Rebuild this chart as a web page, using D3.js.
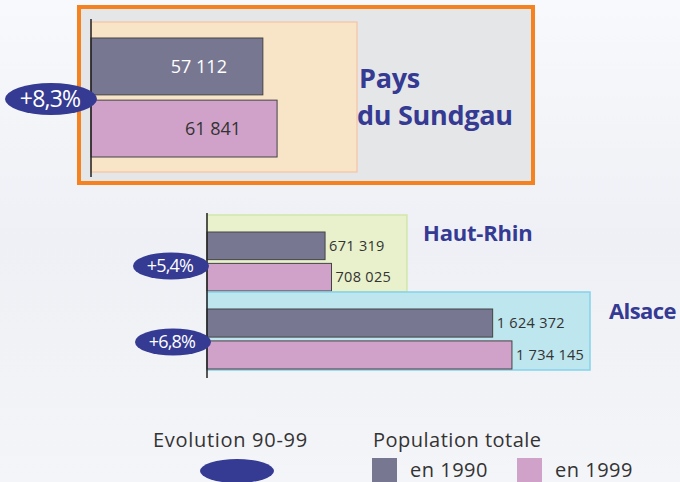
<!DOCTYPE html>
<html>
<head>
<meta charset="utf-8">
<script src="https://cdn.jsdelivr.net/npm/d3@7"></script>
<style>
  body { margin: 0; background: #fff; }
  svg { display: block; }
</style>
</head>
<body>
<div class="canvas"></div>
<script>
// data
const zones = ["Pays du Sundgau", "Haut-Rhin", "Alsace"];
const pop1990 = [57112, 671319, 1624372];
const pop1999 = [61841, 708025, 1734145];
const evolution = ["+8,3%", "+5,4%", "+6,8%"];
const valueLabels1990 = ["57 112", "671 319", "1 624 372"];
const valueLabels1999 = ["61 841", "708 025", "1 734 145"];
const legendYears = ["en 1990", "en 1999"];

const c1990 = "#787792", c1999 = "#d0a2c9", navy = "#353a93";

const svg = d3.select(".canvas")
  .append("svg")
    .attr("width", 680)
    .attr("height", 482);

// soft background
const defs = svg.append("defs");
const grad = defs.append("linearGradient").attr("id", "bg").attr("x1", 0).attr("x2", 0).attr("y1", 0).attr("y2", 1);
grad.append("stop").attr("offset", "0%").attr("stop-color", "#f8f9fc");
grad.append("stop").attr("offset", "50%").attr("stop-color", "#eef0f5");
grad.append("stop").attr("offset", "100%").attr("stop-color", "#f4f5f8");
svg.append("rect").attr("width", 680).attr("height", 482).attr("fill", "url(#bg)");

const numFont = "'Open Sans', Lato, sans-serif";
const titleFont = "'Open Sans', 'DejaVu Sans', sans-serif";

// ---------- top chart: Pays du Sundgau ----------
const xTop = d3.scaleLinear().domain([0, 88400]).range([91, 357]);
const yTop = d3.scaleBand().domain(["1990", "1999"]).range([38, 157]).paddingInner(0.085);

svg.append("rect").attr("x", 79).attr("y", 7).attr("width", 454).attr("height", 176)
  .attr("fill", "#e5e6e8").attr("stroke", "#f5821f").attr("stroke-width", 4);
svg.append("rect").attr("x", xTop(0)).attr("y", 22).attr("width", xTop(88400) - xTop(0)).attr("height", 150)
  .attr("fill", "#f8e4c6").attr("stroke", "#f6c3a4").attr("stroke-width", 1.2);

const topVals = [pop1990[0], pop1999[0]];
svg.selectAll(".barTop").data(topVals).enter().append("rect")
  .attr("x", xTop(0))
  .attr("y", (d, i) => yTop(i ? "1999" : "1990"))
  .attr("width", d => xTop(d) - xTop(0))
  .attr("height", yTop.bandwidth())
  .attr("fill", (d, i) => i ? c1999 : c1990)
  .attr("stroke", "#444").attr("stroke-width", 1);

svg.selectAll(".lblTop").data(topVals).enter().append("text")
  .attr("x", d => xTop(d) - 64)
  .attr("y", (d, i) => yTop(i ? "1999" : "1990") + yTop.bandwidth() / 2)
  .attr("dy", "0.35em")
  .attr("text-anchor", "middle")
  .attr("font-family", numFont).attr("font-size", 18)
  .attr("fill", (d, i) => i ? "#333" : "#fff")
  .text((d, i) => i ? valueLabels1999[0] : valueLabels1990[0]);

svg.append("line").attr("x1", 91).attr("x2", 91).attr("y1", 19).attr("y2", 177)
  .attr("stroke", "#222").attr("stroke-width", 1.5);

svg.append("text").attr("x", 359).attr("y", 88)
  .attr("font-family", titleFont).attr("font-weight", "bold").attr("font-size", 27)
  .attr("fill", navy).attr("letter-spacing", -0.3).text("Pays");
svg.append("text").attr("x", 357).attr("y", 125)
  .attr("font-family", titleFont).attr("font-weight", "bold").attr("font-size", 27)
  .attr("fill", navy).attr("letter-spacing", -0.3).text("du Sundgau");

// ---------- bottom chart: Haut-Rhin & Alsace ----------
const xBot = d3.scaleLinear().domain([0, 2178000]).range([207, 590]);
const groupTop = [215, 292];
const groupBottom = [292, 370];

const bgCols = [["#e8f1cb", "#d2e6aa"], ["#bde6ee", "#84d2ea"]];
const bgMax = [1137000, 2178000];

[1, 2].forEach((k, j) => {
  svg.append("rect")
    .attr("x", xBot(0)).attr("y", groupTop[j])
    .attr("width", xBot(bgMax[j]) - xBot(0)).attr("height", groupBottom[j] - groupTop[j])
    .attr("fill", bgCols[j][0]).attr("stroke", bgCols[j][1]).attr("stroke-width", 1.5);

  const yb = d3.scaleBand().domain(["1990", "1999"])
    .range([groupTop[j] + 17, groupBottom[j] - 1]).paddingInner(0.12);
  const vals = [pop1990[k], pop1999[k]];
  const labs = [valueLabels1990[k], valueLabels1999[k]];

  svg.selectAll(".bar" + k).data(vals).enter().append("rect")
    .attr("x", xBot(0))
    .attr("y", (d, i) => yb(i ? "1999" : "1990"))
    .attr("width", d => xBot(d) - xBot(0))
    .attr("height", yb.bandwidth())
    .attr("fill", (d, i) => i ? c1999 : c1990)
    .attr("stroke", "#444").attr("stroke-width", 1);

  svg.selectAll(".lbl" + k).data(vals).enter().append("text")
    .attr("x", d => xBot(d) + 4)
    .attr("y", (d, i) => yb(i ? "1999" : "1990") + yb.bandwidth() / 2)
    .attr("dy", "0.35em")
    .attr("font-family", numFont).attr("font-size", 14.5)
    .attr("letter-spacing", 0.3)
    .attr("fill", "#333")
    .text((d, i) => labs[i]);
});

svg.append("line").attr("x1", 207).attr("x2", 207).attr("y1", 213).attr("y2", 378)
  .attr("stroke", "#222").attr("stroke-width", 1.5);

svg.append("text").attr("x", 423).attr("y", 241)
  .attr("font-family", titleFont).attr("font-weight", "bold").attr("font-size", 22)
  .attr("fill", navy).attr("letter-spacing", -0.2).text(zones[1]);
svg.append("text").attr("x", 609).attr("y", 319)
  .attr("font-family", titleFont).attr("font-weight", "bold").attr("font-size", 22)
  .attr("fill", navy).attr("letter-spacing", -0.6).text(zones[2]);

// ---------- evolution badges ----------
const badges = [
  { cx: 51, cy: 99, rx: 46, ry: 16, fs: 23 },
  { cx: 171, cy: 266, rx: 38, ry: 13.5, fs: 18 },
  { cx: 173, cy: 342, rx: 38, ry: 13.5, fs: 18 }
];
badges.forEach((b, i) => {
  svg.append("ellipse").attr("cx", b.cx).attr("cy", b.cy).attr("rx", b.rx).attr("ry", b.ry)
    .attr("fill", navy);
  svg.append("text").attr("x", b.cx - 1).attr("y", b.cy).attr("dy", "0.36em")
    .attr("text-anchor", "middle")
    .attr("font-family", numFont).attr("font-size", b.fs).attr("fill", "#fff")
    .attr("letter-spacing", -0.8)
    .text(evolution[i]);
});

// ---------- legend ----------
const legFont = 20;
svg.append("text").attr("x", 153).attr("y", 447)
  .attr("font-family", numFont).attr("font-size", legFont).attr("fill", "#333")
  .attr("letter-spacing", 0.7).text("Evolution 90-99");
svg.append("ellipse").attr("cx", 237).attr("cy", 471).attr("rx", 37).attr("ry", 12).attr("fill", navy);

svg.append("text").attr("x", 373).attr("y", 447)
  .attr("font-family", numFont).attr("font-size", legFont).attr("fill", "#333")
  .attr("letter-spacing", 0.5).text("Population totale");

const legX = [372, 517];
legendYears.forEach((t, i) => {
  svg.append("rect").attr("x", legX[i]).attr("y", 458).attr("width", 25).attr("height", 24)
    .attr("fill", i ? c1999 : c1990);
  svg.append("text").attr("x", legX[i] + 38).attr("y", 477)
    .attr("font-family", numFont).attr("font-size", legFont).attr("fill", "#333")
    .attr("letter-spacing", 0.5).text(t);
});
</script>
</body>
</html>
